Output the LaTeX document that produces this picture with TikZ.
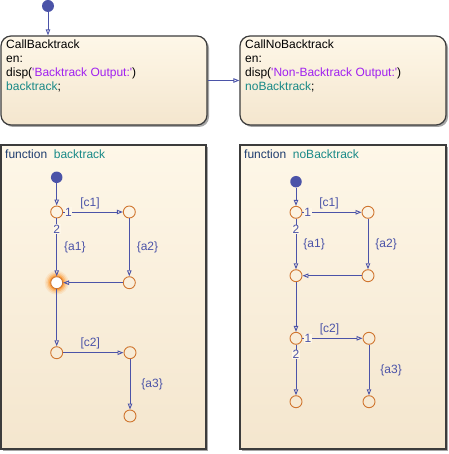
\documentclass[tikz,border=0pt]{standalone}
\usepackage{fontspec}
\setmainfont{Liberation Sans}
\usetikzlibrary{arrows.meta,shadows}
\definecolor{trblue}{RGB}{75,83,168}
\definecolor{juncorange}{RGB}{208,118,48}
\definecolor{fnteal}{RGB}{24,137,135}
\definecolor{strpurple}{RGB}{160,32,240}
\definecolor{kwblue}{RGB}{30,60,110}
\definecolor{boxtop}{RGB}{254,247,232}
\definecolor{boxbot}{RGB}{244,230,206}
\definecolor{boxedge}{RGB}{60,60,60}
\newcommand{\mquote}{\textquotesingle}

\begin{document}
\begin{tikzpicture}[x=1pt,y=-1pt,
  font=\fontsize{12}{14}\selectfont,
  statebox/.style={draw=boxedge, line width=1.2pt, rounded corners=10pt,
    top color=boxtop, bottom color=boxbot,
    drop shadow={shadow xshift=2pt, shadow yshift=-2pt, fill=gray!70, opacity=1}},
  fnbox/.style={draw=boxedge, line width=1.2pt,
    top color=boxtop, bottom color=boxbot,
    drop shadow={shadow xshift=2pt, shadow yshift=-2pt, fill=gray!70, opacity=1}},
  trans/.style={draw=trblue, line width=0.9pt,
    -{Triangle[open,length=6pt,width=4.5pt]}},
  junc/.style={circle, draw=juncorange, line width=0.9pt, minimum size=12pt, inner sep=0pt},
  dflt/.style={circle, fill=trblue, minimum size=11.5pt, inner sep=0pt},
  lbl/.style={text=trblue, inner sep=1pt},
  prio/.style={text=trblue, fill=boxtop, inner sep=0.6pt}]

\useasboundingbox (0,0) rectangle (448,454);

% top level chart
\node[statebox, minimum width=206pt, minimum height=89pt] (callbt) at (104,80.5) {};
\node[statebox, minimum width=206pt, minimum height=89pt] (callnbt) at (343,80.5) {};
\node[anchor=north west, align=left, inner sep=0pt] (btcode) at (6,39.5)
  {CallBacktrack\\en:\\disp(\textcolor{strpurple}{\mquote Backtrack Output:\mquote})\\\textcolor{fnteal}{backtrack};};
\node[anchor=north west, align=left, inner sep=0pt] (nbtcode) at (245,39.5)
  {CallNoBacktrack\\en:\\disp(\textcolor{strpurple}{\mquote Non-Backtrack Output:\mquote})\\\textcolor{fnteal}{noBacktrack};};
\node[dflt, minimum size=12pt] (start) at (48,6) {};
\draw[trans] (start) -- (start |- callbt.north);
\draw[trans] (callbt.east) -- (callnbt.west);

% graphical functions
\node[fnbox, minimum width=205pt, minimum height=304pt] (fnbt) at (103.5,297) {};
\node[fnbox, minimum width=206pt, minimum height=304pt] (fnnbt) at (343,297) {};
\node[anchor=north west, inner sep=0pt, text=kwblue] (bttitle) at (5,149.5)
  {function\ \ \textcolor{fnteal}{backtrack}};
\node[anchor=north west, inner sep=0pt, text=kwblue] (nbttitle) at (244,149.5)
  {function\ \ \textcolor{fnteal}{noBacktrack}};

% backtrack
\coordinate (glow) at (56.7,282.7);
\foreach \r/\o in {12/0.10,10.5/0.16,9/0.28,7.5/0.45}
  \fill[orange, opacity=\o] (glow) circle (\r pt);
\node[dflt] (bdot) at (56.7,177.3) {};
\node[junc] (bj1) at (56.7,212) {};
\node[junc] (bj2) at (129.3,212) {};
\node[junc, fill=white] (bj3) at (glow) {};
\node[junc] (bj4) at (129.3,282.7) {};
\node[junc] (bj5) at (56.7,352.7) {};
\node[junc] (bj6) at (130,352.7) {};
\node[junc] (bj7) at (130,416) {};

\draw[trans] (bdot) -- (bj1);
\draw[trans] (bj1) -- (bj2)
  node[prio, pos=0.09] {1}
  node[lbl, pos=0.45, above=2pt] {[c1]};
\draw[trans] (bj1) -- (bj3)
  node[prio, pos=0.18] {2}
  node[lbl, midway, right=6pt] {\{a1\}};
\draw[trans] (bj2) -- (bj4)
  node[lbl, midway, right=6pt] {\{a2\}};
\draw[trans] (bj4) -- (bj3);
\draw[trans] (bj3) -- (bj5);
\draw[trans] (bj5) -- (bj6)
  node[lbl, pos=0.45, above=2pt] {[c2]};
\draw[trans] (bj6) -- (bj7)
  node[lbl, midway, right=10pt] {\{a3\}};

% noBacktrack
\node[dflt] (ndot) at (296,181.7) {};
\node[junc] (nj1) at (296,212.3) {};
\node[junc] (nj2) at (368,212.3) {};
\node[junc] (nj3) at (296,275.7) {};
\node[junc] (nj4) at (368,275.7) {};
\node[junc] (nj5) at (296,338.3) {};
\node[junc] (nj6) at (369,338.3) {};
\node[junc] (nj7) at (296,401.7) {};
\node[junc] (nj8) at (369,401.7) {};

\draw[trans] (ndot) -- (nj1);
\draw[trans] (nj1) -- (nj2)
  node[prio, pos=0.09] {1}
  node[lbl, pos=0.45, above=2pt] {[c1]};
\draw[trans] (nj1) -- (nj3)
  node[prio, pos=0.21] {2}
  node[lbl, midway, right=6pt] {\{a1\}};
\draw[trans] (nj2) -- (nj4)
  node[lbl, midway, right=6pt] {\{a2\}};
\draw[trans] (nj4) -- (nj3);
\draw[trans] (nj3) -- (nj5);
\draw[trans] (nj5) -- (nj6)
  node[prio, pos=0.09] {1}
  node[lbl, pos=0.45, above=2pt] {[c2]};
\draw[trans] (nj5) -- (nj7)
  node[prio, pos=0.19] {2};
\draw[trans] (nj6) -- (nj8)
  node[lbl, midway, right=10pt] {\{a3\}};
\end{tikzpicture}
\end{document}
